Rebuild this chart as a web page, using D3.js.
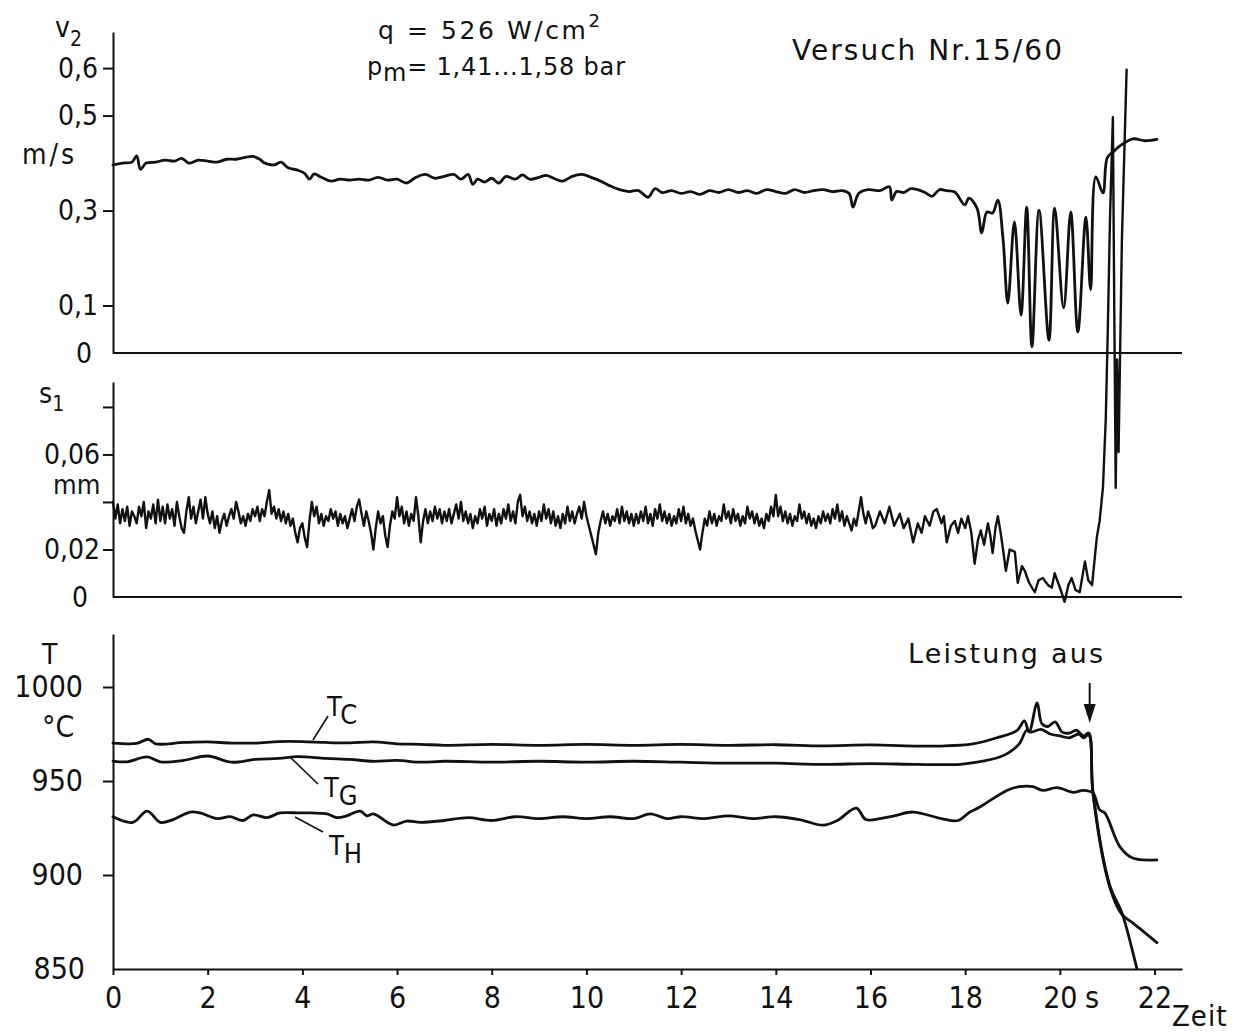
<!DOCTYPE html>
<html>
<head>
<meta charset="utf-8">
<script src="https://cdn.jsdelivr.net/npm/d3@7"></script>
<style>
body { margin: 0; background: #fff; }
text { font-family: 'DejaVu Sans Condensed', 'DejaVu Sans', sans-serif; font-stretch: condensed; fill: #111; }
text.head { font-family: 'DejaVu Sans', sans-serif; font-stretch: normal; }
</style>
</head>
<body>
<svg id="chart"></svg>
<script>
const width = 1239
const height = 1033

// time axis (s)
const timeTicks = [0, 2, 4, 6, 8, 10, 12, 14, 16, 18, 20, 22]
const powerOffTime = 20.63

// v2 (m/s), [t, v]
const v2Ticks = [0.6, 0.5, 0.3, 0.1]
const v2Data = [
	[0, 0.396], [0.2, 0.400], [0.4, 0.402], [0.5, 0.415], [0.58, 0.387], [0.7, 0.400], [0.9, 0.402],
	[1.1, 0.406], [1.3, 0.404], [1.45, 0.410], [1.6, 0.400], [1.8, 0.406], [2.0, 0.404], [2.2, 0.402],
	[2.4, 0.408], [2.6, 0.408], [2.8, 0.412], [2.95, 0.414], [3.1, 0.408], [3.2, 0.400], [3.4, 0.396],
	[3.55, 0.402], [3.7, 0.390], [3.9, 0.385], [4.05, 0.378], [4.15, 0.366], [4.25, 0.377], [4.4, 0.370],
	[4.6, 0.362], [4.8, 0.366], [5.0, 0.364], [5.2, 0.366], [5.4, 0.364], [5.6, 0.370], [5.8, 0.364],
	[6.0, 0.366], [6.2, 0.358], [6.4, 0.370], [6.6, 0.376], [6.8, 0.368], [7.0, 0.372], [7.2, 0.376],
	[7.35, 0.366], [7.5, 0.376], [7.6, 0.355], [7.7, 0.366], [7.85, 0.360], [8.0, 0.368], [8.15, 0.358],
	[8.3, 0.372], [8.5, 0.366], [8.65, 0.375], [8.8, 0.366], [9.0, 0.370], [9.15, 0.374], [9.35, 0.366],
	[9.5, 0.362], [9.7, 0.372], [9.9, 0.376], [10.1, 0.370], [10.3, 0.362], [10.5, 0.352], [10.7, 0.344],
	[10.9, 0.340], [11.1, 0.342], [11.3, 0.328], [11.45, 0.346], [11.6, 0.338], [11.8, 0.342], [12.0, 0.336],
	[12.2, 0.340], [12.4, 0.334], [12.6, 0.342], [12.8, 0.338], [13.0, 0.344], [13.2, 0.338], [13.4, 0.342],
	[13.6, 0.336], [13.8, 0.344], [14.0, 0.340], [14.2, 0.336], [14.4, 0.344], [14.6, 0.338], [14.8, 0.342],
	[15.0, 0.344], [15.2, 0.340], [15.4, 0.342], [15.55, 0.336], [15.63, 0.307], [15.75, 0.336], [15.95, 0.344],
	[16.2, 0.342], [16.4, 0.350], [16.45, 0.322], [16.55, 0.340], [16.7, 0.338], [16.85, 0.346], [17.0, 0.344],
	[17.15, 0.338], [17.3, 0.330], [17.46, 0.344], [17.6, 0.342], [17.78, 0.339], [17.99, 0.312], [18.08, 0.326],
	[18.25, 0.305], [18.35, 0.253], [18.46, 0.297], [18.58, 0.295], [18.69, 0.322], [18.8, 0.240], [18.9, 0.105],
	[19.04, 0.276], [19.18, 0.080], [19.3, 0.307], [19.41, 0.013], [19.56, 0.301], [19.77, 0.027], [19.89, 0.305],
	[20.08, 0.095], [20.23, 0.297], [20.38, 0.044], [20.55, 0.286], [20.65, 0.133], [20.76, 0.371], [20.91, 0.337],
	[21.0, 0.411], [21.12, 0.423], [21.27, 0.436], [21.54, 0.451], [21.8, 0.447], [22.05, 0.450]
]

// s1 (mm): noisy part read every 0.05 s from t = 0, then [t, s] pairs
const s1Ticks = [0.08, 0.06, 0.04, 0.02]
const s1Labels = { 0.06: '0,06', 0.02: '0,02' }
const s1Step = 0.05
const s1Noise = [
	.040, .033, .039, .031, .037, .032, .038, .030, .036, .034, .031, .038, .034, .040, .029, .036, .033, .039, .031, .041,
	.032, .038, .031, .039, .033, .037, .030, .040, .034, .029, .027, .036, .042, .033, .038, .031, .036, .041, .033, .042,
	.035, .031, .036, .029, .034, .027, .032, .035, .030, .034, .037, .033, .040, .036, .031, .034, .030, .035, .032, .037,
	.034, .038, .032, .037, .034, .040, .045, .035, .038, .033, .037, .032, .036, .031, .035, .030, .033, .027, .023, .029,
	.031, .025, .021, .032, .040, .034, .038, .031, .035, .030, .034, .032, .037, .033, .036, .030, .035, .031, .034, .029,
	.033, .037, .032, .038, .041, .035, .030, .036, .032, .027, .020, .029, .036, .031, .034, .026, .021, .030, .036, .033,
	.042, .034, .038, .031, .036, .030, .035, .032, .042, .034, .023, .032, .037, .031, .036, .032, .038, .033, .037, .031,
	.036, .032, .037, .031, .035, .039, .033, .040, .032, .036, .031, .035, .029, .034, .031, .037, .033, .038, .030, .035,
	.032, .037, .030, .035, .031, .037, .033, .039, .032, .036, .031, .040, .043, .034, .038, .032, .036, .031, .035, .030,
	.036, .032, .039, .033, .037, .031, .036, .030, .034, .029, .035, .031, .038, .032, .036, .031, .035, .038, .033, .040,
	.034, .030, .026, .022, .018, .027, .032, .036, .031, .035, .030, .034, .032, .037, .031, .038, .032, .036, .031, .035,
	.030, .035, .031, .036, .032, .038, .031, .035, .030, .037, .033, .039, .032, .036, .031, .035, .030, .034, .031, .037,
	.032, .038, .031, .035, .030, .033, .028, .024, .020, .027, .033, .030, .036, .031, .035, .030, .034, .032, .039, .033,
	.036, .031, .037, .032, .035, .030, .034, .031, .038, .033, .036, .031, .035, .030, .033, .029, .035, .032, .038, .034,
	.043, .034, .038, .032, .036, .031, .035, .030, .034, .032, .039, .033, .036, .031, .035, .030, .033, .029, .034, .031,
	.036, .032, .035, .031, .037, .033, .039, .032, .036, .030, .034, .031, .028, .033, .030, .036, .042, .035, .031, .036,
	.033, .029, .030
]
const s1Tail = [
	[16.2, .036], [16.3, .031], [16.4, .038], [16.5, .030], [16.62, .035], [16.7, .029], [16.8, .033], [16.9, .023],
	[17.0, .031], [17.08, .027], [17.15, .034], [17.25, .030], [17.33, .036], [17.4, .037], [17.5, .031], [17.55, .034],
	[17.61, .023], [17.7, .030], [17.78, .032], [17.85, .027], [17.92, .033], [18.0, .029], [18.06, .034], [18.13, .027],
	[18.2, .014], [18.27, .024], [18.33, .028], [18.4, .022], [18.48, .031], [18.53, .026], [18.58, .0185], [18.64, .029],
	[18.69, .034], [18.75, .027], [18.8, .020], [18.86, .011], [18.94, .020], [19.05, .019], [19.11, .006], [19.2, .013],
	[19.26, .011], [19.35, .006], [19.47, .002], [19.55, .007], [19.64, .008], [19.75, .005], [19.83, .004], [19.89, .010],
	[20.0, .004], [20.1, -.002], [20.18, .005], [20.25, .008], [20.33, .003], [20.42, .002], [20.53, .015], [20.6, .007],
	[20.68, .005], [20.78, .025], [20.84, .032], [20.91, .046], [20.97, .075], [21.01, .11], [21.06, .16],
	[21.12, .202], [21.15, .12], [21.18, .046], [21.21, .10], [21.24, .061], [21.31, .15], [21.41, .222]
]

// temperatures (°C), [t, T]
const tempTicks = [1000, 950, 900]
const tcData = [
	[0, 970.2], [0.5, 970], [0.75, 972.2], [0.9, 969.8], [1.5, 970.5], [2.0, 970.8], [2.5, 970.2], [3.0, 970.2],
	[3.5, 971], [4.0, 971], [4.5, 970.5], [5.0, 970.3], [5.5, 970.8], [6.0, 969.8], [6.5, 969.5], [7, 969],
	[8, 969.5], [9, 969], [10, 969.5], [11, 969], [12, 969.5], [13, 969], [14, 969.3], [15, 968.7], [16, 969.2],
	[17, 968.6], [17.5, 968.6], [18.16, 969.7], [18.67, 973], [19.1, 977], [19.25, 982], [19.35, 976],
	[19.52, 991.5], [19.62, 980.5], [19.75, 979], [19.9, 981.5], [20.05, 976], [20.2, 975.5], [20.35, 977],
	[20.5, 974], [20.61, 975.5], [20.7, 944], [21.06, 894], [21.31, 880], [21.58, 855], [21.63, 850]
]
const tgData = [
	[0, 960.6], [0.3, 960.2], [0.72, 962.8], [1.0, 960.2], [1.5, 961], [2.0, 963.3], [2.5, 960], [3.0, 961.5],
	[3.5, 962], [3.9, 963], [4.5, 962], [5.0, 961.5], [5.5, 960.5], [6, 961], [6.5, 960], [7, 960.5], [8, 960],
	[9, 960.5], [10, 960], [11, 960.5], [12, 960], [13, 959.5], [14, 959.5], [15, 958.8], [16, 959.3], [17, 958.8],
	[17.9, 958.9], [18.25, 960], [18.73, 962.8], [18.94, 965.4], [19.15, 970], [19.3, 977], [19.4, 976],
	[19.6, 977.5], [19.8, 975], [20.0, 974], [20.2, 973], [20.4, 975], [20.5, 973], [20.61, 974.5],
	[20.7, 943], [21.06, 893], [21.31, 879], [21.54, 874.5], [22.05, 864]
]
const thData = [
	[0, 931], [0.42, 928], [0.72, 934], [1.0, 928], [1.27, 929.5], [1.63, 933.5], [1.84, 933], [2.2, 930],
	[2.47, 931], [2.75, 929], [2.96, 932], [3.25, 930.5], [3.53, 933], [3.95, 933], [4.2, 933], [4.52, 932.5],
	[4.73, 930.5], [4.94, 931.5], [5.22, 934], [5.36, 931.5], [5.5, 932.5], [5.92, 926.6], [6.2, 928.7],
	[6.5, 928], [7, 929], [7.5, 930.5], [8, 929], [8.5, 931], [9, 930], [9.5, 931], [10, 930], [10.5, 931],
	[11, 930], [11.35, 932.5], [11.7, 930], [12, 931], [12.5, 930], [13, 931.5], [13.5, 930], [14, 931],
	[14.5, 929.5], [15.0, 926.5], [15.3, 929], [15.7, 935.6], [15.9, 929.5], [16.2, 930], [16.5, 931.5],
	[16.9, 933.5], [17.5, 930], [17.85, 929], [18.1, 933.5], [18.3, 936], [18.88, 945], [19.15, 947],
	[19.43, 947], [19.64, 945], [19.94, 946.5], [20.28, 944], [20.49, 945], [20.7, 943.6], [20.84, 934.6],
	[20.95, 933], [21.27, 915], [21.54, 909], [22.05, 908]
]

const comma = d => String(d).replace('.', ',')

const svg = d3.select('#chart').attr('width', width).attr('height', height)

const x = d3.scaleLinear().domain([0, 22.58]).range([113, 1182])
const yV = d3.scaleLinear().domain([0, 0.676]).range([353, 32])
const yS = d3.scaleLinear().domain([0, 0.0905]).range([597, 382])
const yT = d3.scaleLinear().domain([850, 1028.2]).range([969, 634])

function styleAxis(g) {
	g.select('.domain').attr('stroke', '#111').attr('stroke-width', 2)
	g.selectAll('.tick line').attr('stroke', '#111').attr('stroke-width', 2)
	g.selectAll('.tick text').attr('fill', '#111')
	g.attr('font-family', null)
}

// left axes
svg.append('g').attr('transform', 'translate(113,0)')
	.call(d3.axisLeft(yV).tickValues(v2Ticks).tickSize(10).tickSizeOuter(0).tickPadding(5).tickFormat(comma))
	.call(styleAxis).attr('font-size', 28)

svg.append('g').attr('transform', 'translate(113,0)')
	.call(d3.axisLeft(yS).tickValues(s1Ticks).tickSize(10).tickSizeOuter(0).tickPadding(3)
		.tickFormat(d => s1Labels[d] || ''))
	.call(styleAxis).attr('font-size', 28)

svg.append('g').attr('transform', 'translate(113,0)')
	.call(d3.axisLeft(yT).tickValues(tempTicks).tickSize(10).tickSizeOuter(0).tickPadding(20).tickFormat(d => String(d)))
	.call(styleAxis).attr('font-size', 30)

// baselines
svg.append('line').attr('x1', x(0)).attr('x2', x.range()[1]).attr('y1', yV(0)).attr('y2', yV(0))
	.attr('stroke', '#111').attr('stroke-width', 2)
svg.append('line').attr('x1', x(0)).attr('x2', x.range()[1]).attr('y1', yS(0)).attr('y2', yS(0))
	.attr('stroke', '#111').attr('stroke-width', 2)

// time axis
svg.append('g').attr('transform', `translate(0,${yT(850)})`)
	.call(d3.axisBottom(x).tickValues(timeTicks).tickSize(6).tickSizeOuter(0).tickPadding(12))
	.call(styleAxis).attr('font-size', 30)

// zero / 850 labels on baselines
const zeroLabels = [[yV(0), 92, '0', 28], [yS(0), 88, '0', 28], [yT(850), 85, '850', 30]]
zeroLabels.forEach(([yy, xx, t, fs]) => {
	svg.append('text').attr('x', xx).attr('y', yy).attr('dy', '0.34em')
		.attr('text-anchor', 'end').attr('font-size', fs).text(t)
})

// curves: recorder traces are smooth except the noisy s1 signal
const smooth = d3.curveCatmullRom.alpha(0.5)
const lineV = d3.line().x(d => x(d[0])).y(d => yV(d[1])).curve(smooth)
const lineS = d3.line().x(d => x(d[0])).y(d => yS(d[1]))
const lineT = d3.line().x(d => x(d[0])).y(d => yT(d[1])).curve(smooth)

const s1Data = s1Noise.map((v, i) => [i * s1Step, v]).concat(s1Tail)

const curves = [
	[lineV, v2Data, 2.8], [lineS, s1Data, 2.4], [lineT, tcData, 2.8], [lineT, tgData, 2.8], [lineT, thData, 2.8]
]
curves.forEach(([gen, data, sw]) => {
	svg.append('path').datum(data).attr('d', gen)
		.attr('fill', 'none').attr('stroke', '#111').attr('stroke-width', sw)
		.attr('stroke-linejoin', 'round').attr('stroke-linecap', 'round')
})

// axis titles
function label(xx, yy, main, sub, fs, subFs, subDy, anchor) {
	const t = svg.append('text').attr('x', xx).attr('y', yy).attr('font-size', fs)
	if (anchor) t.attr('text-anchor', anchor)
	t.append('tspan').text(main)
	if (sub) t.append('tspan').attr('font-size', subFs).attr('dy', subDy).text(sub)
	return t
}
label(55, 37, 'v', '2', 28, 21, 9)
label(22, 164, 'm/s', null, 28).attr('letter-spacing', 3)
label(39, 403, 's', '1', 28, 21, 8)
label(53, 494, 'mm', null, 27)
label(42, 664, 'T', null, 28)
label(42, 737, '°C', null, 30)
label(1172, 1026, 'Zeit', null, 29).attr('letter-spacing', 1)
label(1085, 1008, 's', null, 30)

// header texts
const q = svg.append('text').attr('class', 'head').attr('x', 378).attr('y', 39).attr('font-size', 25)
	.attr('textLength', 222).attr('lengthAdjust', 'spacing')
q.append('tspan').text('q = 526 W/cm')
q.append('tspan').attr('font-size', 18).attr('dy', -12).text('2')

const p = svg.append('text').attr('class', 'head').attr('x', 367).attr('y', 75).attr('font-size', 24)
	.attr('textLength', 258).attr('lengthAdjust', 'spacing')
p.append('tspan').text('p')
p.append('tspan').attr('dy', 6).text('m')
p.append('tspan').attr('dy', -6).text('= 1,41...1,58 bar')

svg.append('text').attr('class', 'head').attr('x', 792).attr('y', 60).attr('font-size', 28)
	.attr('textLength', 270).attr('lengthAdjust', 'spacing').text('Versuch Nr.15/60')

svg.append('text').attr('class', 'head').attr('x', 908).attr('y', 663).attr('font-size', 27)
	.attr('textLength', 195).attr('lengthAdjust', 'spacing').text('Leistung aus')

// power-off arrow
const ax = x(powerOffTime)
svg.append('line').attr('x1', ax).attr('x2', ax).attr('y1', 683).attr('y2', 712)
	.attr('stroke', '#111').attr('stroke-width', 2)
svg.append('path').attr('d', `M${ax - 6},704 L${ax + 6},704 L${ax},723 Z`)
	.attr('fill', '#111')

// curve labels with leaders
const curveLabels = [
	{ name: 'T', sub: 'C', tx: 327, ty: 716, lx1: 313, ly1: 740, lx2: 328, ly2: 716 },
	{ name: 'T', sub: 'G', tx: 324, ty: 797, lx1: 290, ly1: 757, lx2: 318, ly2: 784 },
	{ name: 'T', sub: 'H', tx: 329, ty: 855, lx1: 295, ly1: 817, lx2: 323, ly2: 832 }
]
curveLabels.forEach(c => {
	svg.append('line').attr('x1', c.lx1).attr('y1', c.ly1).attr('x2', c.lx2).attr('y2', c.ly2)
		.attr('stroke', '#111').attr('stroke-width', 1.6)
	label(c.tx, c.ty, c.name, c.sub, 27, 27, 8)
})
</script>
</body>
</html>
